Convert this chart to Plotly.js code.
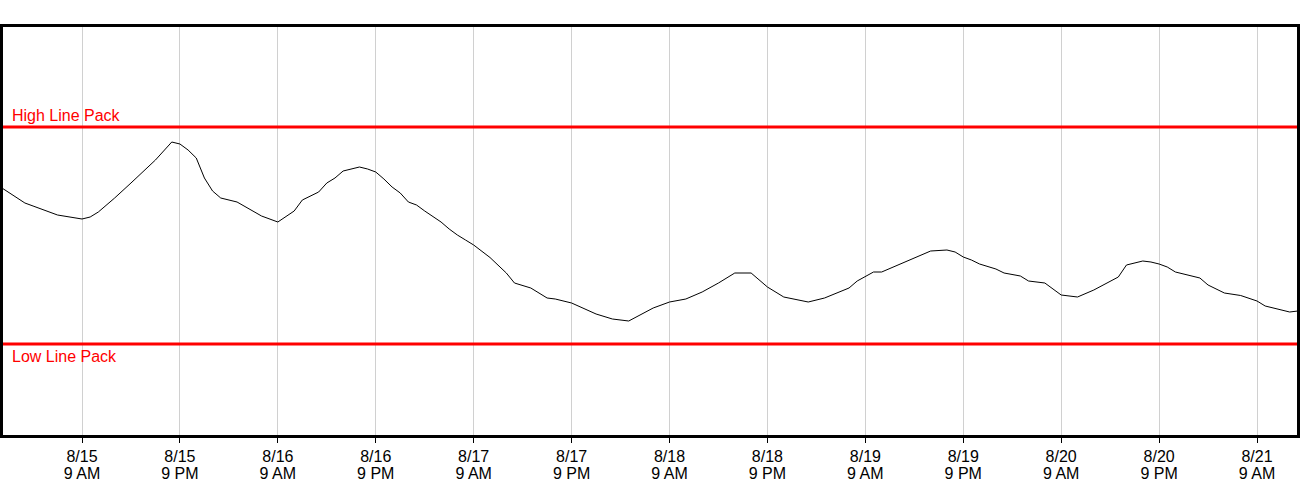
<!DOCTYPE html>
<html>
<head>
<meta charset="utf-8">
<script src="https://cdn.plot.ly/plotly-3.0.1.min.js"></script>
<style>html,body{margin:0;padding:0;background:#fff;}#chart{width:1300px;height:500px;}</style>
</head>
<body>
<div id="chart"></div>
<script>
// Line pack readings (time, value)
var times = [
  '2023-08-14 23:00','2023-08-15 02:00','2023-08-15 03:00','2023-08-15 06:00','2023-08-15 09:00',
  '2023-08-15 10:00','2023-08-15 11:00','2023-08-15 13:00','2023-08-15 15:00','2023-08-15 17:00',
  '2023-08-15 18:00','2023-08-15 20:00','2023-08-15 21:00','2023-08-15 22:00','2023-08-15 23:00',
  '2023-08-16 00:00','2023-08-16 01:00','2023-08-16 02:00','2023-08-16 04:00','2023-08-16 07:00',
  '2023-08-16 09:00','2023-08-16 11:00','2023-08-16 12:00','2023-08-16 14:00','2023-08-16 15:00',
  '2023-08-16 16:00','2023-08-16 17:00','2023-08-16 19:00','2023-08-16 20:00','2023-08-16 21:00',
  '2023-08-16 22:00','2023-08-16 23:00','2023-08-17 00:00','2023-08-17 01:00','2023-08-17 02:00',
  '2023-08-17 03:00','2023-08-17 05:00','2023-08-17 06:00','2023-08-17 07:00','2023-08-17 08:00',
  '2023-08-17 09:00','2023-08-17 11:00','2023-08-17 12:00','2023-08-17 13:00','2023-08-17 14:00',
  '2023-08-17 16:00','2023-08-17 18:00','2023-08-17 19:00','2023-08-17 21:00','2023-08-18 00:00',
  '2023-08-18 02:00','2023-08-18 04:00','2023-08-18 07:00','2023-08-18 09:00','2023-08-18 11:00',
  '2023-08-18 13:00','2023-08-18 15:00','2023-08-18 17:00','2023-08-18 19:00','2023-08-18 21:00',
  '2023-08-18 23:00','2023-08-19 02:00','2023-08-19 04:00','2023-08-19 07:00','2023-08-19 08:00',
  '2023-08-19 10:00','2023-08-19 11:00','2023-08-19 13:00','2023-08-19 15:00','2023-08-19 17:00',
  '2023-08-19 19:00','2023-08-19 20:00','2023-08-19 21:00','2023-08-19 22:00','2023-08-19 23:00',
  '2023-08-20 01:00','2023-08-20 02:00','2023-08-20 04:00','2023-08-20 05:00','2023-08-20 07:00',
  '2023-08-20 09:00','2023-08-20 11:00','2023-08-20 13:00','2023-08-20 16:00','2023-08-20 17:00',
  '2023-08-20 19:00','2023-08-20 20:00','2023-08-20 21:00','2023-08-20 22:00','2023-08-20 23:00',
  '2023-08-21 02:00','2023-08-21 03:00','2023-08-21 05:00','2023-08-21 07:00','2023-08-21 09:00',
  '2023-08-21 10:00','2023-08-21 13:00','2023-08-21 14:00'
];
var linePack = [
  250,234,231,222,218,
  220,225,239,254,270,
  277,295,293,287,279,
  259,246,239,235,221,
  215,226,237,245,254,
  259,266,270,268,265,
  258,250,244,235,232,
  226,215,208,202,197,
  192,179.5,172,164,154,
  149,139,138,134,123,
  118,116,129,135,138,
  145,154,164,164,150,
  140,135,139,149,156,
  165,165,172,179,186,
  187,185,180,177,173,
  168,164,161,156,154,
  142,140,147,160,172,
  176,175,173,170,165,
  159,152,144,141.5,136,
  131,125,126
];
var highLinePack = 310;
var lowLinePack = 93;
var highLabel = 'High Line Pack';
var lowLabel = 'Low Line Pack';

var tickVals = [
  '2023-08-15 09:00','2023-08-15 21:00','2023-08-16 09:00','2023-08-16 21:00',
  '2023-08-17 09:00','2023-08-17 21:00','2023-08-18 09:00','2023-08-18 21:00',
  '2023-08-19 09:00','2023-08-19 21:00','2023-08-20 09:00','2023-08-20 21:00',
  '2023-08-21 09:00'
];
var tickDates = ['8/15','8/15','8/16','8/16','8/17','8/17','8/18','8/18','8/19','8/19','8/20','8/20','8/21'];
var tickHours = ['9 AM','9 PM','9 AM','9 PM','9 AM','9 PM','9 AM','9 PM','9 AM','9 PM','9 AM','9 PM','9 AM'];
var xRange = ['2023-08-14 23:19','2023-08-21 13:54'];
var yRange = [2, 410];

var FONT = 'Arial, "Liberation Sans", sans-serif';
var TICKFONT = {family: FONT, size: 16, color: '#000'};

var data = [
  {x: times, y: linePack, type: 'scatter', mode: 'lines',
   line: {color: '#000000', width: 1}, hoverinfo: 'skip', showlegend: false},
  {x: [times[0]], y: [null], xaxis: 'x2', yaxis: 'y', type: 'scatter', mode: 'lines',
   hoverinfo: 'skip', showlegend: false}
];

var baseX = {
  type: 'date', range: xRange,
  tickmode: 'array', tickvals: tickVals,
  ticks: 'outside', ticklen: 5, tickwidth: 1, tickcolor: '#000',
  tickfont: TICKFONT,
  showline: true, linecolor: '#000', linewidth: 3,
  zeroline: false, fixedrange: true
};

var layout = {
  width: 1300, height: 500,
  margin: {l: 3, r: 3, t: 27, b: 65, pad: 0},
  paper_bgcolor: '#ffffff', plot_bgcolor: '#ffffff',
  showlegend: false,
  font: {family: FONT, size: 16, color: '#000'},
  xaxis: Object.assign({}, baseX, {
    ticktext: tickDates, mirror: true,
    showgrid: true, gridcolor: '#d0d0d0', gridwidth: 1
  }),
  xaxis2: Object.assign({}, baseX, {
    ticktext: tickHours, overlaying: 'x', side: 'bottom', anchor: 'y',
    showgrid: false, ticklabelstandoff: 17
  }),
  yaxis: {
    range: yRange, showticklabels: false, ticks: '',
    showgrid: false, zeroline: false,
    showline: true, linecolor: '#000', linewidth: 3, mirror: true,
    fixedrange: true
  },
  shapes: [
    {type: 'line', xref: 'paper', x0: 0, x1: 1, yref: 'y', y0: highLinePack, y1: highLinePack,
     line: {color: '#ff0000', width: 3}, layer: 'above'},
    {type: 'line', xref: 'paper', x0: 0, x1: 1, yref: 'y', y0: lowLinePack, y1: lowLinePack,
     line: {color: '#ff0000', width: 3}, layer: 'above'}
  ],
  annotations: [
    {text: highLabel, xref: 'paper', x: 0, xanchor: 'left', xshift: 7,
     yref: 'y', y: highLinePack, yanchor: 'bottom', yshift: 1,
     showarrow: false, font: {family: FONT, size: 16, color: '#ff0000'}},
    {text: lowLabel, xref: 'paper', x: 0, xanchor: 'left', xshift: 7,
     yref: 'y', y: lowLinePack, yanchor: 'top', yshift: -2,
     showarrow: false, font: {family: FONT, size: 16, color: '#ff0000'}}
  ]
};

Plotly.newPlot('chart', data, layout, {staticPlot: true, displayModeBar: false});
</script>
</body>
</html>
